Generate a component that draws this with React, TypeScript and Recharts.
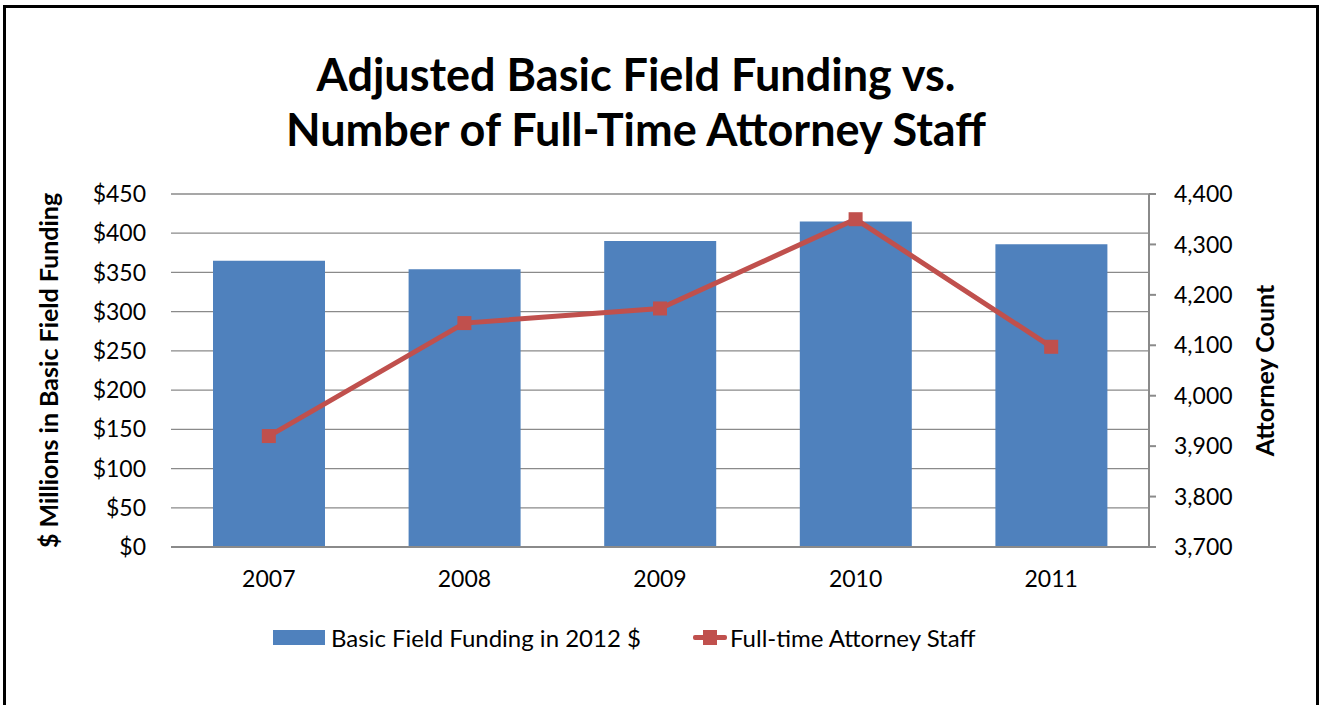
import React from "react";
import {
  ComposedChart,
  Bar,
  Line,
  XAxis,
  YAxis,
  CartesianGrid,
} from "recharts";

// values
const years = ["2007", "2008", "2009", "2010", "2011"];
const funding = [365, 354, 390, 415, 386]; // $ millions, 2012 dollars
const attorneys = [3920, 4144, 4173, 4350, 4097];

const fundingTicks = [0, 50, 100, 150, 200, 250, 300, 350, 400, 450];
const attorneyTicks = [3700, 3800, 3900, 4000, 4100, 4200, 4300, 4400];

const titleLines = [
  "Adjusted Basic Field Funding vs.",
  "Number of Full-Time Attorney Staff",
];
const fundingName = "Basic Field Funding in 2012 $";
const attorneyName = "Full-time Attorney Staff";

const BLUE = "#4F81BD";
const RED = "#C0504D";
const GRID = "#8a8a8a";
const FONT = "Lato, 'Open Sans', sans-serif";

const data = years.map((year, i) => ({
  year,
  funding: funding[i],
  attorneys: attorneys[i],
}));

// square marker like Excel's
const SquareDot = (props: any) => {
  const { cx, cy } = props;
  if (cx == null || cy == null) return null;
  return <rect x={cx - 7} y={cy - 7} width={14} height={14} fill={RED} />;
};

const tickStyle = { fill: "#000", fontSize: 23, fontFamily: FONT };
const axisTitleStyle = { fill: "#000", fontSize: 25, fontWeight: 700, fontFamily: FONT, textAnchor: "middle" };

export default function App() {
  return (
    <div style={{ position: "absolute", left: 0, top: 0, width: 1320, height: 705, overflow: "hidden", background: "#fff" }}>
      {/* outer frame, bottom edge is cut off in the picture */}
      <div
        style={{
          position: "absolute",
          left: 3,
          top: 5,
          width: 1316,
          height: 740,
          border: "3px solid #000",
          boxSizing: "border-box",
        }}
      />

      <div
        style={{
          position: "absolute",
          left: 0,
          top: 47,
          width: 1272,
          textAlign: "center",
          fontFamily: FONT,
          fontWeight: 700,
          fontSize: 45,
          lineHeight: "55px",
          color: "#000",
        }}
      >
        {titleLines.map((t) => (
          <div key={t}>{t}</div>
        ))}
      </div>

      <div style={{ position: "absolute", left: 0, top: 0 }}>
        <ComposedChart
          width={1320}
          height={705}
          data={data}
          margin={{ top: 194, right: 0, bottom: 108, left: 0 }}
        >
          <CartesianGrid yAxisId="left" vertical={false} stroke={GRID} strokeWidth={1.3} />
          <XAxis
            dataKey="year"
            axisLine={{ stroke: GRID, strokeWidth: 2 }}
            tickLine={false}
            tickSize={0}
            tickMargin={24}
            tick={tickStyle}
            height={50}
          />
          <YAxis
            yAxisId="left"
            orientation="left"
            width={171}
            domain={[0, 450]}
            ticks={fundingTicks}
            interval={0}
            axisLine={false}
            tickLine={false}
            tickSize={0}
            tickMargin={25}
            tick={tickStyle}
            tickFormatter={(v: number) => `$${v}`}
            label={{
              value: "$ Millions in Basic Field Funding",
              angle: -90,
              position: "center",
              dx: -36,
              style: axisTitleStyle,
            }}
          />
          <YAxis
            yAxisId="right"
            orientation="right"
            width={171}
            domain={[3700, 4400]}
            ticks={attorneyTicks}
            interval={0}
            axisLine={{ stroke: GRID, strokeWidth: 2 }}
            tickLine={{ stroke: GRID, strokeWidth: 2 }}
            tickSize={7}
            tickMargin={18}
            tick={tickStyle}
            tickFormatter={(v: number) => v.toLocaleString("en-US")}
            label={{
              value: "Attorney Count",
              angle: -90,
              position: "center",
              dx: 31,
              style: axisTitleStyle,
            }}
          />
          <Bar
            yAxisId="left"
            dataKey="funding"
            name={fundingName}
            fill={BLUE}
            barSize={112}
            isAnimationActive={false}
          />
          <Line
            yAxisId="right"
            type="linear"
            dataKey="attorneys"
            name={attorneyName}
            stroke={RED}
            strokeWidth={5}
            dot={<SquareDot />}
            activeDot={false}
            isAnimationActive={false}
          />
        </ComposedChart>
      </div>

      {/* legend */}
      <div
        style={{
          position: "absolute",
          left: 273,
          top: 622,
          height: 30,
          display: "flex",
          alignItems: "center",
          fontFamily: FONT,
          fontSize: 24,
          color: "#000",
          whiteSpace: "nowrap",
        }}
      >
        <span style={{ display: "inline-block", width: 52, height: 15, background: BLUE, marginRight: 6 }} />
        <span>{fundingName}</span>
        <span style={{ display: "inline-block", position: "relative", width: 34, height: 15, marginLeft: 52, marginRight: 3 }}>
          <span style={{ position: "absolute", left: 0, top: 5, width: 34, height: 5, background: RED, borderRadius: 2 }} />
          <span style={{ position: "absolute", left: 10, top: 0, width: 14, height: 15, background: RED }} />
        </span>
        <span>{attorneyName}</span>
      </div>
    </div>
  );
}
